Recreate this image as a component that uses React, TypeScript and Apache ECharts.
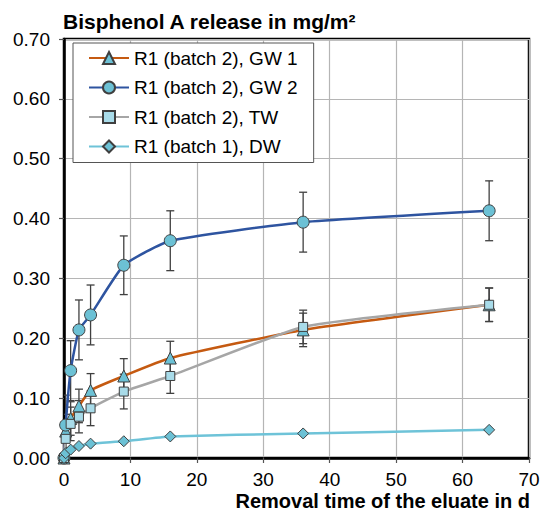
import React, { useEffect, useRef } from "react";
import * as echarts from "echarts";

// Removal times of the eluates (days)
const days = [0, 0.25, 1, 2.25, 4, 9, 16, 36, 64];

// Cumulative Bisphenol A release in mg/m²
const gw1 = [0, 0.045, 0.066, 0.087, 0.113, 0.137, 0.167, 0.214, 0.256];
const gw2 = [0, 0.055, 0.146, 0.214, 0.239, 0.322, 0.363, 0.394, 0.413];
const tw = [0, 0.032, 0.057, 0.069, 0.083, 0.111, 0.137, 0.219, 0.256];
const dw = [0, 0.008, 0.014, 0.02, 0.024, 0.028, 0.036, 0.041, 0.047];

// Error bar half-widths
const gw1Err = [0, 0.028, 0.028, 0.028, 0.028, 0.029, 0.028, 0.028, 0.028];
const gw2Err = [0, 0.05, 0.05, 0.05, 0.05, 0.049, 0.05, 0.05, 0.05];
const twErr = [0, 0.028, 0.028, 0.027, 0.029, 0.029, 0.029, 0.028, 0.028];

const seriesNames = [
  "R1 (batch 2), GW 1",
  "R1 (batch 2), GW 2",
  "R1 (batch 2), TW",
  "R1 (batch 1), DW",
];

const chartTitle = "Bisphenol A release in mg/m²";
const xTitle = "Removal time of the eluate in d";

const FONT = "'Liberation Sans', Arial, sans-serif";

export default function App() {
  const ref = useRef<HTMLDivElement>(null);

  useEffect(() => {
    if (!ref.current) return;
    const chart = echarts.init(ref.current, undefined, { renderer: "svg" });

    const pairs = (ys: number[]) => days.map((d, i) => [d, ys[i]]);
    const errData = (ys: number[], es: number[]) =>
      days.map((d, i) => [d, ys[i], es[i]]);

    const errSeries = (name: string, ys: number[], es: number[]) => ({
      name,
      type: "custom",
      data: errData(ys, es),
      encode: { x: 0, y: 1 },
      silent: true,
      clip: true,
      renderItem: (params: any, api: any) => {
        const x = api.value(0);
        const y = api.value(1);
        const e = api.value(2);
        if (!e) return null;
        const top = api.coord([x, y + e]);
        const bot = api.coord([x, y - e]);
        const w = 4;
        const st = { stroke: "#404040", lineWidth: 1.3 };
        return {
          type: "group",
          children: [
            { type: "line", shape: { x1: top[0], y1: top[1], x2: bot[0], y2: bot[1] }, style: st },
            { type: "line", shape: { x1: top[0] - w, y1: top[1], x2: top[0] + w, y2: top[1] }, style: st },
            { type: "line", shape: { x1: bot[0] - w, y1: bot[1], x2: bot[0] + w, y2: bot[1] }, style: st },
          ],
        };
      },
    });

    const lineSeries = (
      name: string,
      ys: number[],
      color: string,
      symbol: string,
      size: number,
      fill: string
    ) => ({
      name,
      type: "line",
      data: pairs(ys),
      smooth: 0.15,
      symbol,
      symbolSize: size,
      showAllSymbol: true,
      lineStyle: { color, width: 2.5 },
      itemStyle: { color: fill, borderColor: "#3f3f3f", borderWidth: 1 },
      emphasis: { disabled: true },
      silent: true,
    });

    chart.setOption({
      animation: false,
      backgroundColor: "#ffffff",
      textStyle: { fontFamily: FONT },
      grid: {
        left: 64,
        right: 21,
        top: 39,
        bottom: 61,
        show: true,
        borderColor: "#000",
        borderWidth: 2.5,
        backgroundColor: "#fff",
      },
      xAxis: {
        type: "value",
        min: 0,
        max: 70,
        interval: 10,
        axisLine: { show: true, lineStyle: { color: "#000", width: 2.5 } },
        axisTick: { show: true, length: 5, lineStyle: { color: "#555", width: 1.2 } },
        axisLabel: { fontSize: 19, color: "#000", margin: 12, fontFamily: FONT },
        splitLine: { show: true, lineStyle: { color: "#b5b5b5", width: 1.2 } },
      },
      yAxis: {
        type: "value",
        min: 0,
        max: 0.7,
        interval: 0.1,
        axisLine: { show: true, lineStyle: { color: "#000", width: 2.5 } },
        axisTick: { show: true, length: 5, lineStyle: { color: "#555", width: 1.2 } },
        axisLabel: {
          fontSize: 19,
          color: "#000",
          margin: 14,
          fontFamily: FONT,
          formatter: (v: number) => v.toFixed(2),
        },
        splitLine: { show: true, lineStyle: { color: "#b5b5b5", width: 1.2 } },
      },
      legend: {
        data: seriesNames,
        orient: "vertical",
        left: 73,
        top: 43,
        padding: [5, 16, 6, 15],
        itemWidth: 40,
        itemHeight: 15,
        itemGap: 9.5,
        itemTextGap: 5,
        borderColor: "#555",
        borderWidth: 1,
        backgroundColor: "#fff",
        borderRadius: 0,
        textStyle: { fontSize: 19, lineHeight: 20, color: "#000", fontFamily: FONT },
        selectedMode: false,
      },
      graphic: [
        {
          type: "text",
          x: 63,
          y: 21,
          style: {
            text: chartTitle,
            font: `bold 21px ${FONT}`,
            fill: "#000",
            textAlign: "left",
            textVerticalAlign: "middle",
          },
        },
        {
          type: "text",
          x: 530,
          y: 501,
          style: {
            text: xTitle,
            font: `bold 20px ${FONT}`,
            fill: "#000",
            textAlign: "right",
            textVerticalAlign: "middle",
          },
        },
      ],
      series: [
        errSeries("err-gw1", gw1, gw1Err),
        errSeries("err-gw2", gw2, gw2Err),
        errSeries("err-tw", tw, twErr),
        lineSeries(seriesNames[0], gw1, "#c55a11", "triangle", 12, "#6cc1d5"),
        lineSeries(seriesNames[1], gw2, "#2e54a0", "circle", 12, "#6cc1d5"),
        lineSeries(seriesNames[2], tw, "#a6a6a6", "rect", 9, "#a8dbe9"),
        lineSeries(seriesNames[3], dw, "#6ec3d8", "diamond", 11, "#6cc1d5"),
      ],
    });

    return () => chart.dispose();
  }, []);

  return (
    <div
      ref={ref}
      style={{ position: "absolute", left: 0, top: 0, width: 550, height: 519 }}
    />
  );
}
